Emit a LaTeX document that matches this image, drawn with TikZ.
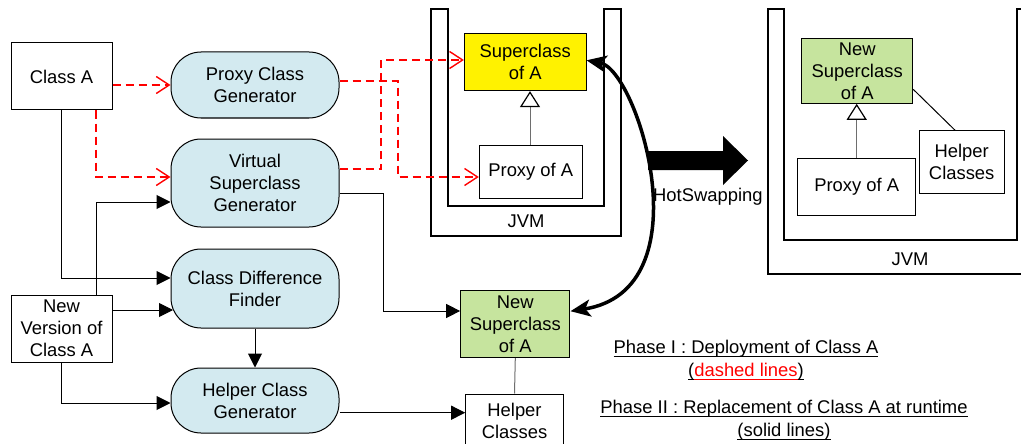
\documentclass[tikz,border=0pt]{standalone}
\usepackage{fontspec}
\setmainfont{Liberation Sans}
\usetikzlibrary{arrows.meta}
\newsavebox\myulbox
\newcommand\myul[1]{\sbox\myulbox{#1}\rlap{\rule[-3pt]{\wd\myulbox}{1.2pt}}\usebox\myulbox}
\definecolor{pillblue}{RGB}{211,234,240}
\definecolor{boxgreen}{RGB}{198,228,158}
\definecolor{inhgray}{RGB}{110,110,110}
\begin{document}
\begin{tikzpicture}[x=1pt,y=-1pt,
  base/.style={font=\fontsize{18.4}{22}\selectfont, align=center, inner sep=0pt},
  box/.style={base, draw, line width=1pt, rectangle},
  pill/.style={base, draw, line width=1pt, fill=pillblue, rounded corners=30pt, minimum width=168pt},
  reddash/.style={color=red, line width=1.7pt, dash pattern=on 8pt off 5pt, -{Straight Barb[length=13pt,width=17pt,line width=1.4pt]}},
  solidarr/.style={draw=black, line width=1pt, -{Triangle[length=14pt,width=14pt]}},
  inh/.style={draw=inhgray, line width=1pt, -{Triangle[open,length=16pt,width=20pt,color=black,line width=1.2pt]}},
  wall/.style={draw, line width=1.2pt},
  lbl/.style={base}
]
\useasboundingbox (0,0) rectangle (1021,444);
\clip (0,0) rectangle (1021,444);
\fill[white] (0,0) rectangle (1021,444);

% JVM containers
\draw[wall] (431,9) -- (431,236) -- (621,236) -- (621,9) -- (604,9) -- (604,206) -- (448,206) -- (448,9) -- cycle;
\node[lbl] (jvm1) at (526,221) {JVM};
\draw[wall] (768,9) -- (768,274) -- (1040,274) -- (1040,9) -- (1017,9) -- (1017,240) -- (784,240) -- (784,9) -- cycle;
\node[lbl] (jvm2) at (910,259) {JVM};

% left column
\node[box, minimum width=101pt, minimum height=67pt] (classA) at (61.5,76.5) {Class A};
\node[box, minimum width=101pt, minimum height=67pt] (newv) at (61.5,328.5) {New\\Version of\\Class A};

\node[pill, minimum height=66pt] (pcg) at (255,85) {Proxy Class\\Generator};
\node[pill, minimum height=88pt] (vsg) at (255,183) {Virtual\\Superclass\\Generator};
\node[pill, minimum height=79pt] (cdf) at (255,288.5) {Class Difference\\Finder};
\node[pill, minimum height=65pt] (hcg) at (255,400.5) {Helper Class\\Generator};

% middle JVM content
\node[box, fill=yellow, minimum width=121.7pt, minimum height=56.7pt] (sup) at (525.2,62.3) {Superclass\\of A};
\node[box, minimum width=103pt, minimum height=52.6pt] (proxy) at (530.8,172) {Proxy of A};

% middle bottom
\node[box, fill=boxgreen, minimum width=109.3pt, minimum height=67pt] (nsup) at (515.3,324.2) {New\\Superclass\\of A};
\node[box, minimum width=97.6pt, minimum height=54pt] (helper) at (514.5,421) {Helper\\Classes};

% right JVM content
\node[box, fill=boxgreen, minimum width=111pt, minimum height=65pt] (rnsup) at (857.2,70.8) {New\\Superclass\\of A};
\node[box, minimum width=118pt, minimum height=56.7pt] (rproxy) at (856.7,186.7) {Proxy of A};
\node[box, minimum width=84.7pt, minimum height=62.6pt] (rhelper) at (961.7,162) {Helper\\Classes};

% red dashed (phase I)
\draw[reddash] (classA.east |- pcg.west) -- (pcg.west);
\draw[reddash] ([xshift=34.5pt]classA.south) |- ([yshift=6pt]vsg.west);
\draw[reddash] ([yshift=4pt]pcg.east) -- ++(58.3pt,0) |- ([yshift=-5pt]proxy.west);
\draw[reddash] ([yshift=13.7pt]vsg.east) -- ++(41.7pt,0) |- ([yshift=2.3pt]sup.west);

% solid (phase II)
\draw[solidarr] (classA.south) |- ([yshift=10.5pt]cdf.west);
\draw[solidarr] ([xshift=34.5pt]newv.north) |- ([yshift=-19pt]vsg.west);
\draw[solidarr] ([yshift=18.5pt]newv.east) -- ([xshift=2.5pt,yshift=-21.5pt]cdf.west);
\draw[solidarr] (newv.south) |- ([yshift=-2.5pt]hcg.west);
\draw[solidarr] (cdf.south) -- (hcg.north);
\draw[solidarr] ([yshift=-10.7pt]vsg.east) -- ++(43.7pt,0) |- ([yshift=13.2pt]nsup.west);
\draw[solidarr] ([yshift=-12.2pt]hcg.east) -- ([yshift=-12.2pt]hcg.east -| helper.west);

% inheritance and links
\draw[inh] ([xshift=-0.8pt]proxy.north) -- ([xshift=-0.8pt]proxy.north |- sup.south);
\draw[draw=inhgray, line width=1pt] (nsup.south) -- (helper.north);
\draw[inh] (rproxy.north) -- (rproxy.north |- rnsup.south);
\draw[line width=1pt] ([yshift=-18.5pt]rnsup.east) -- ([xshift=-6.7pt]rhelper.north);

% hot swapping curve
\draw[line width=3.5pt, {Stealth[length=20pt,width=17pt,inset=5pt]}-{Stealth[length=20pt,width=17pt,inset=5pt]}]
  ([yshift=2pt]sup.east) .. controls (638,70) and (706,290) .. ([yshift=13pt]nsup.east);

% big arrow
\fill[black] (648,151) -- (723,151) -- (723,136) -- (748,160.5) -- (723,185) -- (723,170) -- (648,170) -- cycle;
\node[lbl, anchor=west] (hs) at (653,197) {HotSwapping};

% legend
\node[lbl] (p1) at (746,349) {\myul{Phase I : Deployment of Class A}};
\node[lbl] (p1b) at (746,372) {\myul{(}\textcolor{red}{\myul{dashed lines}}\myul{)}};
\node[lbl] (p2) at (784,409) {\myul{Phase II : Replacement of Class A at runtime}};
\node[lbl] (p2b) at (784,432) {\myul{(solid lines)}};
\end{tikzpicture}
\end{document}
